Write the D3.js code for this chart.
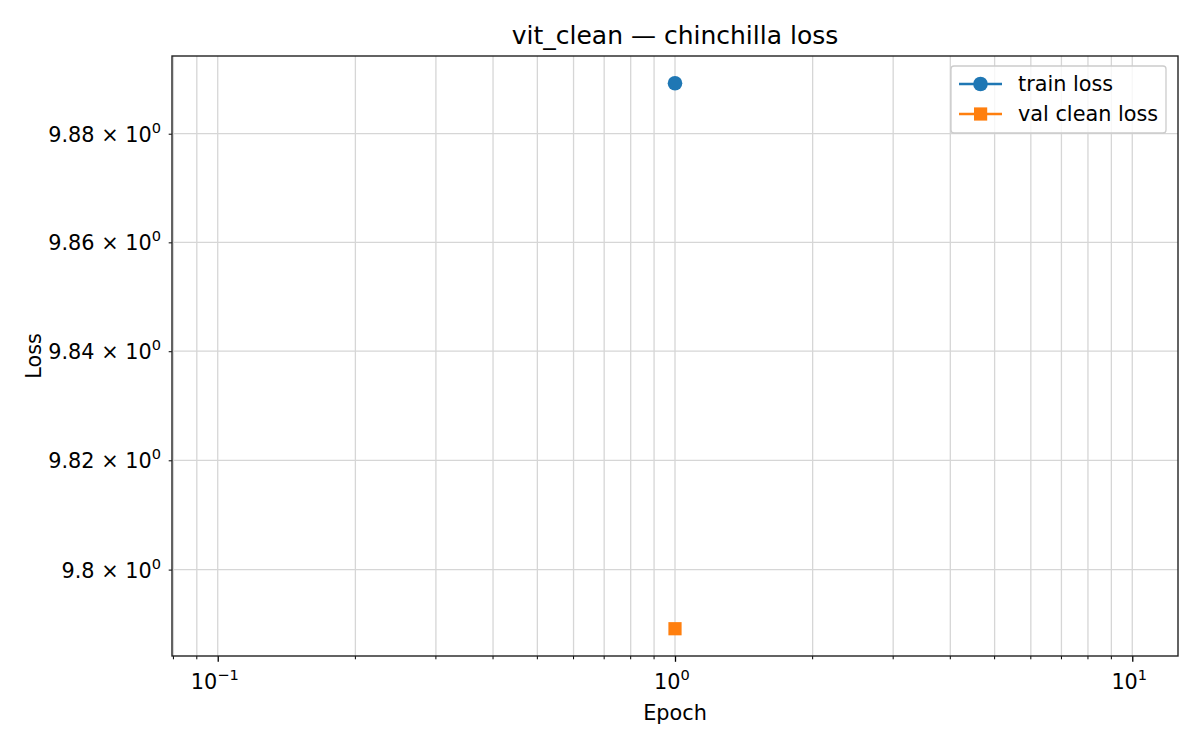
<!DOCTYPE html>
<html>
<head>
<meta charset="utf-8">
<script src="https://cdn.jsdelivr.net/npm/d3@7"></script>
<style>
  body { margin: 0; background: #fff; }
  text { font-family: "DejaVu Sans", sans-serif; fill: #000; }
</style>
</head>
<body>
<svg id="chart" width="1200" height="750"></svg>
<script>
var epochs = [1]
var trainLoss = [9.8893]
var valLoss = [9.7892]

var yTicks = [9.80, 9.82, 9.84, 9.86, 9.88]
var yTickLabels = ["9.8", "9.82", "9.84", "9.86", "9.88"]
var xMajorTicks = [0.1, 1, 10]
var xMajorExp = ["\u22121", "0", "1"]
var xMinorTicks = [0.08, 0.09, 0.2, 0.3, 0.4, 0.5, 0.6, 0.7, 0.8, 0.9, 2, 3, 4, 5, 6, 7, 8, 9]

var plotL = 172, plotR = 1178, plotT = 56, plotB = 656
var gridColor = "#d6d6d6"
var fontSize = 20.8, supSize = 14.6

var svg = d3.select("#chart")

// x: one point at 1, matplotlib pads a log axis out to +-1.1 decades
var x = d3.scaleLog().domain([Math.pow(10, -1.1), Math.pow(10, 1.1)]).range([plotL, plotR])

// y: 5% padding in log space around the data
var allY = trainLoss.concat(valLoss)
var lo = Math.log10(d3.min(allY)), hi = Math.log10(d3.max(allY))
var pad = (hi - lo) * 0.05
var y = d3.scaleLog().domain([Math.pow(10, lo - pad), Math.pow(10, hi + pad)]).range([plotB, plotT])

// grid
svg.append("g").selectAll("line")
  .data(xMajorTicks.concat(xMinorTicks))
  .enter().append("line")
  .attr("x1", function(d) { return x(d) }).attr("x2", function(d) { return x(d) })
  .attr("y1", plotT).attr("y2", plotB)
  .attr("stroke", gridColor).attr("stroke-width", 1.3)

svg.append("g").selectAll("line")
  .data(yTicks)
  .enter().append("line")
  .attr("y1", function(d) { return y(d) }).attr("y2", function(d) { return y(d) })
  .attr("x1", plotL).attr("x2", plotR)
  .attr("stroke", gridColor).attr("stroke-width", 1.3)

// x axis
var xAxis = svg.append("g").attr("transform", "translate(0," + plotB + ")")
xAxis.call(d3.axisBottom(x).tickValues(xMajorTicks).tickSize(5.8).tickFormat(""))
xAxis.select(".domain").remove()
xAxis.selectAll(".tick line").attr("stroke", "#000").attr("stroke-width", 1.3)
xAxis.append("g").selectAll("line")
  .data(xMinorTicks)
  .enter().append("line")
  .attr("x1", function(d) { return x(d) }).attr("x2", function(d) { return x(d) })
  .attr("y1", 0).attr("y2", 3.3)
  .attr("stroke", "#000").attr("stroke-width", 1)

xMajorTicks.forEach(function(v, i) {
  var t = svg.append("text")
    .attr("x", x(v) - 3).attr("y", plotB + 33)
    .attr("text-anchor", "middle").style("font-size", fontSize + "px")
  t.append("tspan").text("10")
  t.append("tspan").attr("dy", -9).style("font-size", supSize + "px").text(xMajorExp[i])
})

// y axis
var yAxis = svg.append("g").attr("transform", "translate(" + plotL + ",0)")
yAxis.call(d3.axisLeft(y).tickValues(yTicks).tickSize(3.3).tickFormat(""))
yAxis.select(".domain").remove()
yAxis.selectAll(".tick line").attr("stroke", "#000").attr("stroke-width", 1)

yTicks.forEach(function(v, i) {
  var t = svg.append("text")
    .attr("x", plotL - 11).attr("y", y(v) + 8)
    .attr("text-anchor", "end").style("font-size", fontSize + "px")
  t.append("tspan").text(yTickLabels[i] + " \u00d7 10")
  t.append("tspan").attr("dy", -9).style("font-size", supSize + "px").text("0")
})

// frame
svg.append("rect")
  .attr("x", plotL).attr("y", plotT)
  .attr("width", plotR - plotL).attr("height", plotB - plotT)
  .attr("fill", "none").attr("stroke", "#222").attr("stroke-width", 1.4)

// series
var trainData = epochs.map(function(e, i) { return [e, trainLoss[i]] })
var valData = epochs.map(function(e, i) { return [e, valLoss[i]] })
var line = d3.line().x(function(d) { return x(d[0]) }).y(function(d) { return y(d[1]) })

svg.append("path").datum(trainData).attr("d", line)
  .attr("fill", "none").attr("stroke", "#1f77b4").attr("stroke-width", 2.5)
svg.append("g").selectAll("circle").data(trainData).enter().append("circle")
  .attr("cx", function(d) { return x(d[0]) }).attr("cy", function(d) { return y(d[1]) })
  .attr("r", 7.3).attr("fill", "#1f77b4")

svg.append("path").datum(valData).attr("d", line)
  .attr("fill", "none").attr("stroke", "#ff7f0e").attr("stroke-width", 2.5)
svg.append("g").selectAll("rect").data(valData).enter().append("rect")
  .attr("x", function(d) { return x(d[0]) - 6.6 }).attr("y", function(d) { return y(d[1]) - 6.6 })
  .attr("width", 13.2).attr("height", 13.2).attr("fill", "#ff7f0e")

// labels
svg.append("text").attr("x", (plotL + plotR) / 2).attr("y", 44)
  .attr("text-anchor", "middle").style("font-size", "25px")
  .text("vit_clean \u2014 chinchilla loss")
svg.append("text").attr("x", (plotL + plotR) / 2).attr("y", 720)
  .attr("text-anchor", "middle").style("font-size", fontSize + "px").text("Epoch")
svg.append("text").attr("transform", "translate(41," + ((plotT + plotB) / 2) + ") rotate(-90)")
  .attr("text-anchor", "middle").style("font-size", fontSize + "px").text("Loss")

// legend
var lg = svg.append("g")
lg.append("rect").attr("x", 951).attr("y", 66).attr("width", 215).attr("height", 67)
  .attr("rx", 3).attr("fill", "#fff").attr("fill-opacity", 0.8)
  .attr("stroke", "#ccc").attr("stroke-width", 1.3)
var items = [
  {name: "train loss", color: "#1f77b4", shape: "circle"},
  {name: "val clean loss", color: "#ff7f0e", shape: "square"}
]
items.forEach(function(it, i) {
  var cy = 84 + i * 30
  lg.append("line").attr("x1", 959).attr("x2", 1002).attr("y1", cy).attr("y2", cy)
    .attr("stroke", it.color).attr("stroke-width", 2.5)
  if (it.shape == "circle") {
    lg.append("circle").attr("cx", 980.5).attr("cy", cy).attr("r", 7.3).attr("fill", it.color)
  } else {
    lg.append("rect").attr("x", 974).attr("y", cy - 6.6).attr("width", 13.2).attr("height", 13.2).attr("fill", it.color)
  }
  lg.append("text").attr("x", 1018).attr("y", cy + 7).style("font-size", fontSize + "px").text(it.name)
})
</script>
</body>
</html>
